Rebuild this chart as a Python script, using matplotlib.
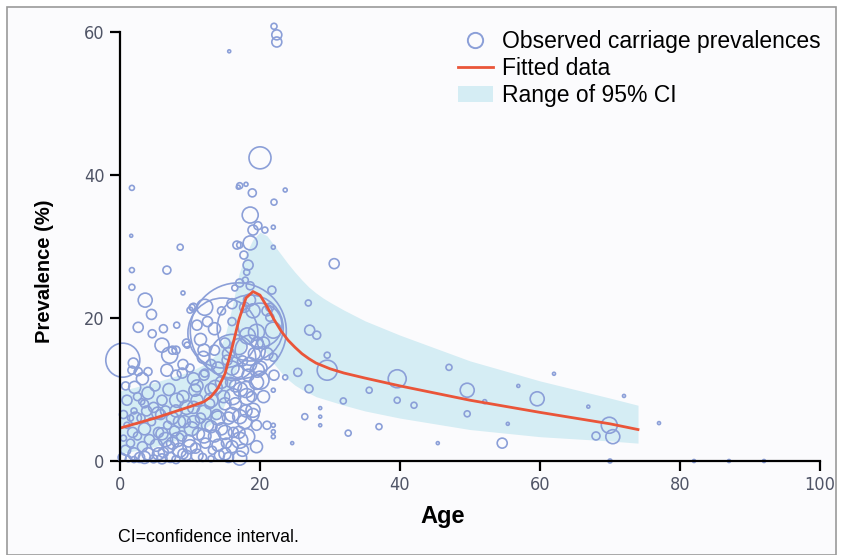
import numpy as np
import matplotlib.pyplot as plt
from matplotlib.patches import Rectangle, Patch
from matplotlib.lines import Line2D

# observed carriage prevalences: age, prevalence (%), study weight (bubble radius)
obs_age = [22.0, 22.4, 22.4, 15.6, 20.0, 18.0, 17.1, 18.9, 23.6, 22.0, 1.7, 1.6, 18.6, 19.7, 19.0,
           20.7, 18.6, 17.1, 17.7, 18.3, 18.1, 30.6, 21.9, 21.9, 26.9, 27.1, 28.1, 29.6, 29.6, 25.4,
           27.0, 23.6, 21.9, 26.4, 28.6, 28.6, 28.6, 21.9, 21.9, 21.9, 24.6, 31.9, 35.6, 39.6, 39.6,
           42.0, 32.6, 37.0, 45.4, 47.0, 49.6, 49.6, 52.1, 54.6, 55.4, 56.9, 59.6, 62.0, 66.9, 69.9,
           70.4, 68.0, 70.0, 72.0, 77.0, 82.0, 87.0, 92.0, 8.6, 16.9, 1.7, 6.7, 1.7, 3.6, 9.0,
           16.7, 10.3, 12.1, 2.6, 8.1, 4.6, 6.0, 7.1, 0.4, 1.9, 1.7, 2.1, 3.1, 6.7, 8.9,
           9.6, 11.9, 12.1, 10.7, 8.1, 5.4, 15.3, 13.6, 16.1, 17.1, 17.1, 17.1, 20.0, 17.1, 17.9,
           16.4, 18.6, 21.7, 10.0, 21.4, 21.4, 21.9, 19.6, 21.9, 19.6, 18.1, 19.0, 18.1,
           16.9, 18.6, 14.7, 20.0, 16.1, 18.6,
           0.3, 0.8, 1.2, 1.5, 0.5, 2.0, 2.5, 1.0, 2.8, 3.2, 3.5, 3.0, 4.0, 4.2, 4.5,
           4.8, 5.2, 5.5, 5.8, 6.2, 6.5, 6.8, 7.2, 7.5, 7.8, 8.0, 8.5, 8.8, 9.2, 9.5,
           9.8, 10.2, 10.5, 10.8, 11.2, 11.5, 11.8, 12.2, 12.5, 12.8, 13.2, 13.5, 13.8, 14.2, 14.5,
           14.8, 15.2, 15.5, 15.8, 16.2, 16.5, 16.8, 17.2, 17.5, 18.0, 18.3, 18.8, 19.2, 19.5, 20.0,
           6.0, 7.0, 9.0, 11.0, 12.0, 13.0, 14.0, 3.5, 5.0, 8.0, 10.0, 4.0, 2.0, 13.5, 15.0,
           9.5, 11.5, 7.5, 3.2, 16.0, 12.5, 6.2, 17.8, 14.5, 10.5, 4.5, 19.0, 18.2, 21.0, 22.0,
           20.5, 19.5, 21.0, 15.5, 17.0, 13.0, 8.0, 2.0,
           0.5, 1.0, 1.8, 2.2, 2.5, 3.8, 4.0, 4.8, 5.5, 6.0, 6.5, 7.0, 7.5, 8.2, 8.5,
           9.0, 9.5, 10.0, 10.5, 11.0, 11.0, 12.0, 12.0, 13.0, 13.0, 14.0, 14.0, 15.0, 15.0, 15.0,
           16.0, 16.0, 16.5, 17.5, 17.8, 18.0, 18.5, 19.0, 19.5, 20.5, 16.0, 14.5, 15.5, 13.0, 12.0,
           10.5, 9.0, 8.0, 17.0, 19.5, 21.0, 18.5, 16.0, 13.5, 11.0, 6.0, 3.5, 1.5, 0.8, 2.6]
obs_prev = [60.8, 59.6, 58.6, 57.3, 42.4, 38.7, 38.5, 37.5, 37.9, 36.2, 38.2, 31.5, 34.4, 32.9, 32.3,
            32.3, 30.5, 30.2, 28.8, 27.4, 26.4, 27.6, 32.7, 29.9, 22.1, 18.3, 17.6, 14.8, 12.7, 12.4,
            10.1, 11.7, 9.9, 6.2, 7.4, 6.2, 5.0, 5.0, 4.1, 3.4, 2.5, 8.4, 9.9, 11.5, 8.5,
            7.8, 3.9, 4.8, 2.5, 13.1, 9.9, 6.6, 8.3, 2.5, 5.2, 10.5, 8.7, 12.2, 7.6, 5.0,
            3.4, 3.5, 0.0, 9.1, 5.3, 0.0, 0.0, 0.0, 29.9, 38.3, 26.7, 26.7, 24.3, 22.5, 23.5,
            30.2, 21.5, 21.5, 18.7, 19.0, 17.8, 16.2, 14.8, 14.1, 13.7, 12.7, 10.3, 8.3, 12.7, 12.3,
            16.2, 14.5, 12.3, 9.9, 8.5, 6.7, 14.1, 10.3, 9.0, 6.2, 2.9, 0.4, 11.3, 24.9, 25.3,
            24.2, 24.5, 23.9, 21.1, 21.5, 20.1, 18.3, 16.5, 14.5, 12.7, 9.0, 7.1, 3.4,
            18.2, 18.6, 17.9, 19.0, 14.5, 15.5,
            0.5, 1.5, 0.3, 2.5, 3.2, 1.0, 3.5, 5.0, 0.5, 2.0, 4.5, 6.0, 1.0, 3.0, 5.5,
            0.3, 2.2, 4.0, 6.5, 1.2, 3.0, 5.0, 0.5, 2.5, 4.2, 7.0, 1.5, 3.5, 5.5, 0.8,
            2.8, 4.5, 7.5, 1.8, 3.8, 6.0, 0.5, 2.5, 5.0, 8.0, 1.5, 3.5, 6.5, 0.8, 4.5,
            9.0, 2.5, 6.0, 11.0, 4.0, 8.0, 12.5, 10.0, 14.0, 7.0, 12.0, 9.0, 15.0, 5.0, 13.0,
            8.5, 10.0, 9.0, 10.5, 12.0, 10.0, 13.0, 8.0, 10.5, 12.0, 13.0, 12.5, 7.0, 15.5, 16.5,
            16.5, 17.0, 15.5, 11.5, 19.5, 19.5, 18.5, 21.5, 21.0, 21.5, 20.5, 21.0, 17.5, 15.0, 12.0,
            9.0, 2.0, 5.0, 0.5, 4.0, 0.3, 0.2, 0.2,
            6.5, 8.5, 4.0, 6.0, 9.0, 7.0, 9.5, 7.5, 1.0, 3.8, 7.0, 2.0, 6.0, 3.0, 5.5,
            1.0, 7.5, 2.0, 5.5, 0.8, 8.5, 3.5, 6.8, 4.8, 8.5, 2.2, 6.0, 1.0, 4.0, 8.0,
            2.0, 6.5, 10.5, 1.5, 5.5, 10.0, 13.5, 6.5, 11.0, 16.5, 13.0, 11.0, 15.0, 13.5, 15.5,
            11.5, 13.5, 15.5, 16.0, 18.0, 21.0, 22.5, 22.0, 18.5, 19.0, 0.3, 0.5, 6.0, 10.5, 12.5]
obs_weight = [3, 5, 5, 1.5, 11, 2, 3, 4, 2, 3, 2.5, 1.5, 8, 4, 5,
              3, 7, 3, 4, 5, 3, 5, 2, 2, 3, 5, 4, 3, 10, 4,
              4, 2.5, 2, 3, 1.5, 1.5, 1.5, 2, 2, 2, 1.5, 3, 3, 9, 3,
              3, 3, 3, 1.5, 3, 7, 3, 2, 5, 1.5, 1.5, 7, 1.5, 1.5, 8,
              7, 4, 2, 1.5, 1.5, 1.5, 1.5, 1.5, 3, 2, 2.5, 4, 3, 7, 2,
              4, 3, 8, 5, 3, 4, 7, 8, 17, 5, 4, 6, 3, 6, 5,
              3, 6, 4, 6, 7, 6, 5, 7, 8, 7, 8, 7, 9, 4, 3,
              3, 4, 4, 3, 4, 4, 8, 6, 4, 7, 8, 7, 8,
              48, 33, 35, 22, 23, 15,
              4, 5, 3, 4, 3, 6, 4, 3, 5, 5, 6, 4, 6, 5, 4,
              4, 6, 5, 5, 5, 7, 4, 5, 6, 5, 6, 7, 5, 6, 5,
              6, 7, 6, 5, 6, 5, 4, 5, 6, 5, 4, 6, 5, 5, 6,
              6, 5, 6, 5, 5, 6, 6, 7, 5, 6, 6, 5, 6, 5, 7,
              5, 6, 6, 6, 5, 6, 6, 4, 5, 5, 4, 4, 3, 5, 5,
              4, 6, 4, 6, 4, 5, 4, 5, 4, 4, 5, 7, 8, 6, 5,
              6, 6, 4, 5, 6, 3, 4, 3,
              4, 5, 5, 6, 4, 5, 6, 5, 6, 6, 5, 6, 6, 7, 6,
              5, 7, 7, 6, 6, 6, 7, 7, 6, 7, 6, 7, 6, 7, 6,
              6, 7, 6, 6, 7, 8, 7, 6, 7, 6, 7, 6, 6, 5, 6,
              6, 5, 4, 8, 8, 5, 6, 5, 6, 5, 5, 6, 3, 4, 4]

# fitted curve and 95% CI
fit_age = [0, 5, 10, 12, 13, 14, 15, 16, 17, 18, 19, 20, 21, 22, 23, 24, 25, 26, 27, 28, 29, 30,
           32, 35, 40, 50, 60, 70, 74]
fit_prev = [4.6, 6.0, 7.6, 8.3, 9.0, 10.2, 12.2, 15.8, 19.8, 22.8, 23.7, 23.2, 21.6, 19.8, 18.2,
            16.9, 15.9, 15.0, 14.3, 13.7, 13.3, 12.9, 12.3, 11.6, 10.5, 8.5, 6.8, 5.2, 4.4]
ci_upper = [9.8, 11.0, 12.5, 13.5, 14.2, 15.2, 17.5, 21.5, 26.2, 29.0, 31.0, 32.0, 31.5, 30.2, 28.9,
            27.6, 26.4, 25.3, 24.3, 23.5, 22.8, 22.2, 21.1, 19.6, 17.6, 14.0, 11.2, 8.8, 7.8]
ci_lower = [1.0, 2.0, 3.5, 4.5, 5.2, 6.0, 8.0, 11.0, 14.0, 16.2, 17.0, 16.2, 15.0, 13.6, 12.4,
            11.4, 10.6, 10.0, 9.5, 9.0, 8.7, 8.4, 7.8, 7.0, 6.0, 4.4, 3.4, 2.8, 2.5]

x_ticks = [0, 20, 40, 60, 80, 100]
y_ticks = [0, 20, 40, 60]

circ_col = '#8b9fd8'
line_col = '#ea5539'
band_col = '#d5edf4'

fig = plt.figure(figsize=(8.42, 5.55), dpi=100)
fig.patch.set_facecolor('white')
border = Rectangle((7/842, 0), 829/842, 1 - 7/555, transform=fig.transFigure,
                   facecolor='#fbfbfd', edgecolor='#9a9a9a', linewidth=1.2, zorder=-5)
fig.patches.append(border)

ax = fig.add_axes([120/842, 1 - 461/555, 700/842, 7.15*61/555])
ax.set_zorder(2)
ax.set_facecolor('none')

ax.fill_between(fit_age, ci_lower, ci_upper, color=band_col, linewidth=0, zorder=1)
sizes = (1.44*np.array(obs_weight))**2
ax.scatter(obs_age, obs_prev, s=sizes, facecolors='none', edgecolors=circ_col, linewidths=1.2,
           zorder=2, clip_on=False)
ax.plot(fit_age, fit_prev, color=line_col, linewidth=2, zorder=3)

ax.set_xlim(0, 100)
ax.set_ylim(0, 61)
ax.spines['top'].set_visible(False)
ax.spines['right'].set_visible(False)
ax.spines['left'].set_bounds(0, 60)
for s in ['left', 'bottom']:
    ax.spines[s].set_linewidth(1.6)
    ax.spines[s].set_zorder(4)
ax.set_xticks(x_ticks)
ax.set_yticks(y_ticks)
ax.tick_params(direction='out', length=7, width=1.6, colors='black', labelcolor='#4f5466',
               labelsize=13, pad=4)
for lab in ax.get_xticklabels() + ax.get_yticklabels():
    lab.set_family('Liberation Sans Narrow')
    lab.set_stretch('condensed')

ax.set_xlabel('Age', fontsize=17, fontweight='bold', family='Liberation Sans')
ax.xaxis.set_label_coords(323/700, -44/436)
ax.set_ylabel('Prevalence (%)', fontsize=14.5, fontweight='bold', family='Liberation Sans')
ax.yaxis.set_label_coords(-66/700, 190/436)

handles = [Line2D([], [], marker='o', linestyle='none', markerfacecolor='none',
                  markeredgecolor=circ_col, markersize=11, markeredgewidth=1.4),
           Line2D([], [], color=line_col, linewidth=2),
           Patch(facecolor=band_col, edgecolor='none')]
labels = ['Observed carriage prevalences', 'Fitted data', 'Range of 95% CI']
ax.legend(handles, labels, loc='upper right', bbox_to_anchor=(1.03, 1.035), frameon=False,
          prop={'family': 'Liberation Sans', 'size': 16.5}, handlelength=1.5, handletextpad=0.4,
          labelspacing=0.18)

fig.text(118/842, 1 - 538/555, 'CI=confidence interval.', fontsize=12.8, family='Liberation Sans',
         va='center')

fig.savefig('out.png', dpi=100)
